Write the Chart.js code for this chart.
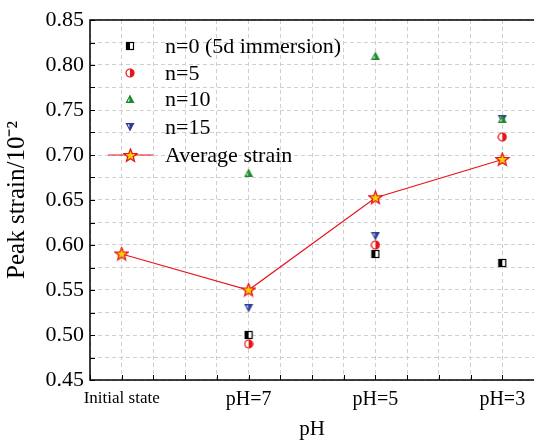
<!DOCTYPE html>
<html><head><meta charset="utf-8">
<script src="https://cdn.jsdelivr.net/npm/chart.js@4/dist/chart.umd.min.js"></script>
<style>html,body{margin:0;padding:0;background:#fff;overflow:hidden;width:534px;height:442px}
#wrap{width:542px;height:442px;position:relative}</style>
</head><body><div id="wrap"><canvas id="c"></canvas></div>
<script>
const categories = ["Initial state", "pH=7", "pH=5", "pH=3"];
const n0 = [null, 0.50, 0.59, 0.58];
const n5 = [null, 0.49, 0.60, 0.72];
const n10 = [null, 0.68, 0.81, 0.74];
const n15 = [null, 0.53, 0.61, 0.74];
const avg = [0.59, 0.55, 0.6525, 0.695];
const seriesNames = ["n=0 (5d immersion)", "n=5", "n=10", "n=15", "Average strain"];
const yTicks = [0.45, 0.50, 0.55, 0.60, 0.65, 0.70, 0.75, 0.80, 0.85];

const FONT = "'Liberation Serif', 'Times New Roman', serif";

function mk(draw, w, h) {
  const c = document.createElement('canvas');
  c.width = w; c.height = h;
  draw(c.getContext('2d'));
  return c;
}
const sqImg = mk(g => {
  g.fillStyle = '#fff'; g.fillRect(1, 1, 8, 8);
  g.fillStyle = '#000'; g.fillRect(1, 1, 4, 8);
  g.strokeStyle = '#000'; g.lineWidth = 1.2; g.strokeRect(1.5, 1.5, 7, 7);
}, 10, 10);
const circImg = mk(g => {
  g.fillStyle = '#fff'; g.beginPath(); g.arc(5, 5, 4.2, 0, Math.PI * 2); g.fill();
  g.fillStyle = '#e8141c'; g.beginPath(); g.arc(5, 5, 4.2, Math.PI / 2, Math.PI * 1.5, true); g.fill();
  g.strokeStyle = '#e8141c'; g.lineWidth = 1.2; g.beginPath(); g.arc(5, 5, 4, 0, Math.PI * 2); g.stroke();
}, 10, 10);
const triImg = mk(g => {
  g.fillStyle = '#1e8a2a'; g.beginPath(); g.moveTo(5, 0.5); g.lineTo(9.5, 9); g.lineTo(0.5, 9); g.closePath(); g.fill();
  g.fillStyle = '#fff'; g.beginPath(); g.moveTo(4.3, 4); g.lineTo(4.3, 7.5); g.lineTo(2.7, 7.5); g.closePath(); g.fill();
}, 10, 10);
const dtriImg = mk(g => {
  g.fillStyle = '#2b3f9a'; g.beginPath(); g.moveTo(0.5, 1); g.lineTo(9.5, 1); g.lineTo(5, 9.5); g.closePath(); g.fill();
  g.fillStyle = '#fff'; g.beginPath(); g.moveTo(2.7, 2.5); g.lineTo(4.3, 2.5); g.lineTo(4.3, 6); g.closePath(); g.fill();
}, 10, 10);
const starImg = mk(g => {
  const cx = 7.5, cy = 7.8, R = 6.8, r = 2.9;
  g.beginPath();
  for (let i = 0; i < 10; i++) {
    const a = -Math.PI / 2 + i * Math.PI / 5;
    const rr = i % 2 ? r : R;
    const x = cx + rr * Math.cos(a), y = cy + rr * Math.sin(a);
    i ? g.lineTo(x, y) : g.moveTo(x, y);
  }
  g.closePath();
  g.fillStyle = '#f5d000'; g.fill();
  g.strokeStyle = '#e8141c'; g.lineWidth = 1.3; g.stroke();
}, 15, 15);

function pts(arr) { return arr.map((v, i) => v == null ? null : { x: i, y: v }).filter(p => p); }

const imgs = [sqImg, circImg, triImg, dtriImg, starImg];

const legendPlugin = {
  id: 'customLegend',
  afterDraw(chart) {
    const g = chart.ctx;
    const x0 = 130, ys = [46, 73, 99, 127, 155];
    g.save();
    g.font = '22px ' + FONT;
    g.fillStyle = '#000';
    g.textBaseline = 'middle';
    seriesNames.forEach((name, i) => {
      const y = ys[i];
      if (i === 4) {
        g.strokeStyle = '#e8141c'; g.lineWidth = 1.2;
        g.beginPath(); g.moveTo(108, y); g.lineTo(153, y); g.stroke();
      }
      const im = imgs[i];
      g.drawImage(im, Math.round(x0 - im.width / 2), Math.round(y - im.height / 2));
      g.fillStyle = '#000';
      g.fillText(name, 165, y + 1);
    });
    g.restore();
  }
};

const frameTicksPlugin = {
  id: 'frameTicks',
  afterDatasetsDraw(chart) {
    const g = chart.ctx, a = chart.chartArea;
    const xs = chart.scales.x, ys = chart.scales.y;
    g.save();
    g.strokeStyle = '#000'; g.lineWidth = 1.5;
    g.beginPath();
    g.moveTo(a.left, a.top); g.lineTo(a.right, a.top);
    g.moveTo(a.left, a.top - 0.75); g.lineTo(a.left, a.bottom + 0.75);
    g.moveTo(a.left - 0.75, a.bottom); g.lineTo(a.right, a.bottom);
    g.stroke();
    g.lineWidth = 1;
    g.beginPath();
    ys.ticks.forEach(t => {
      const y = Math.round(ys.getPixelForValue(t.value)) + 0.5;
      g.moveTo(a.left, y); g.lineTo(a.left + 5, y);
    });
    xs.ticks.forEach(t => {
      const x = Math.round(xs.getPixelForValue(t.value)) + 0.5;
      g.moveTo(x, a.bottom); g.lineTo(x, a.bottom - 5);
    });
    g.stroke();
    g.restore();
  }
};

new Chart(document.getElementById('c'), {
  type: 'scatter',
  data: {
    datasets: [
      { label: seriesNames[4], data: pts(avg), showLine: true, borderColor: '#e8141c', borderWidth: 1.2, pointStyle: starImg, order: 0 },
      { label: seriesNames[0], data: pts(n0), pointStyle: sqImg, order: 1 },
      { label: seriesNames[1], data: pts(n5), pointStyle: circImg, order: 2 },
      { label: seriesNames[2], data: pts(n10), pointStyle: triImg, order: 3 },
      { label: seriesNames[3], data: pts(n15), pointStyle: dtriImg, order: 4 }
    ]
  },
  options: {
    responsive: true,
    maintainAspectRatio: false,
    animation: false,
    layout: { padding: { left: 0, right: 0, top: 20, bottom: 0 } },
    plugins: { legend: { display: false }, tooltip: { enabled: false } },
    scales: {
      x: {
        type: 'linear', min: -0.25, max: 3.25,
        afterFit(s) { s.height = 62; },
        afterBuildTicks(s) {
          const t = [];
          for (let i = 0; i <= 14; i++) t.push({ value: -0.25 + i * 0.25 });
          s.ticks = t;
        },
        ticks: {
          autoSkip: false, maxRotation: 0, padding: 8, color: '#000',
          font: ctx => ({ family: FONT, size: (ctx.tick && Math.abs(ctx.tick.value) < 1e-6) ? 17 : 20 }),
          callback: v => {
            const r = Math.round(v * 100);
            return (r % 100 === 0 && r >= 0) ? categories[r / 100] : '';
          }
        },
        grid: { color: '#cfcfcf', lineWidth: 1, drawTicks: false },
        border: { display: true, color: 'rgba(0,0,0,0)', dash: [4, 3] },
        title: { display: true, text: 'pH', color: '#000', font: { family: FONT, size: 21 }, padding: { top: 8, bottom: 0 } }
      },
      y: {
        min: 0.45, max: 0.85,
        afterFit(s) { s.width = 90; },
        afterBuildTicks(s) {
          const t = [];
          for (let i = 0; i <= 16; i++) t.push({ value: 0.45 + i * 0.025 });
          s.ticks = t;
        },
        ticks: {
          autoSkip: false, padding: 6, color: '#000',
          font: { family: FONT, size: 22 },
          callback: v => {
            const r = Math.round(v * 1000);
            return r % 50 === 0 ? yTicks.find(y => Math.round(y * 1000) === r).toFixed(2) : '';
          }
        },
        grid: { color: '#cfcfcf', lineWidth: 1, drawTicks: false },
        border: { display: true, color: 'rgba(0,0,0,0)', dash: [4, 3] },
        title: { display: true, text: 'Peak strain/10⁻²', color: '#000', font: { family: FONT, size: 25 }, padding: { top: 2, bottom: 4 } }
      }
    }
  },
  plugins: [frameTicksPlugin, legendPlugin]
});
</script></body></html>
